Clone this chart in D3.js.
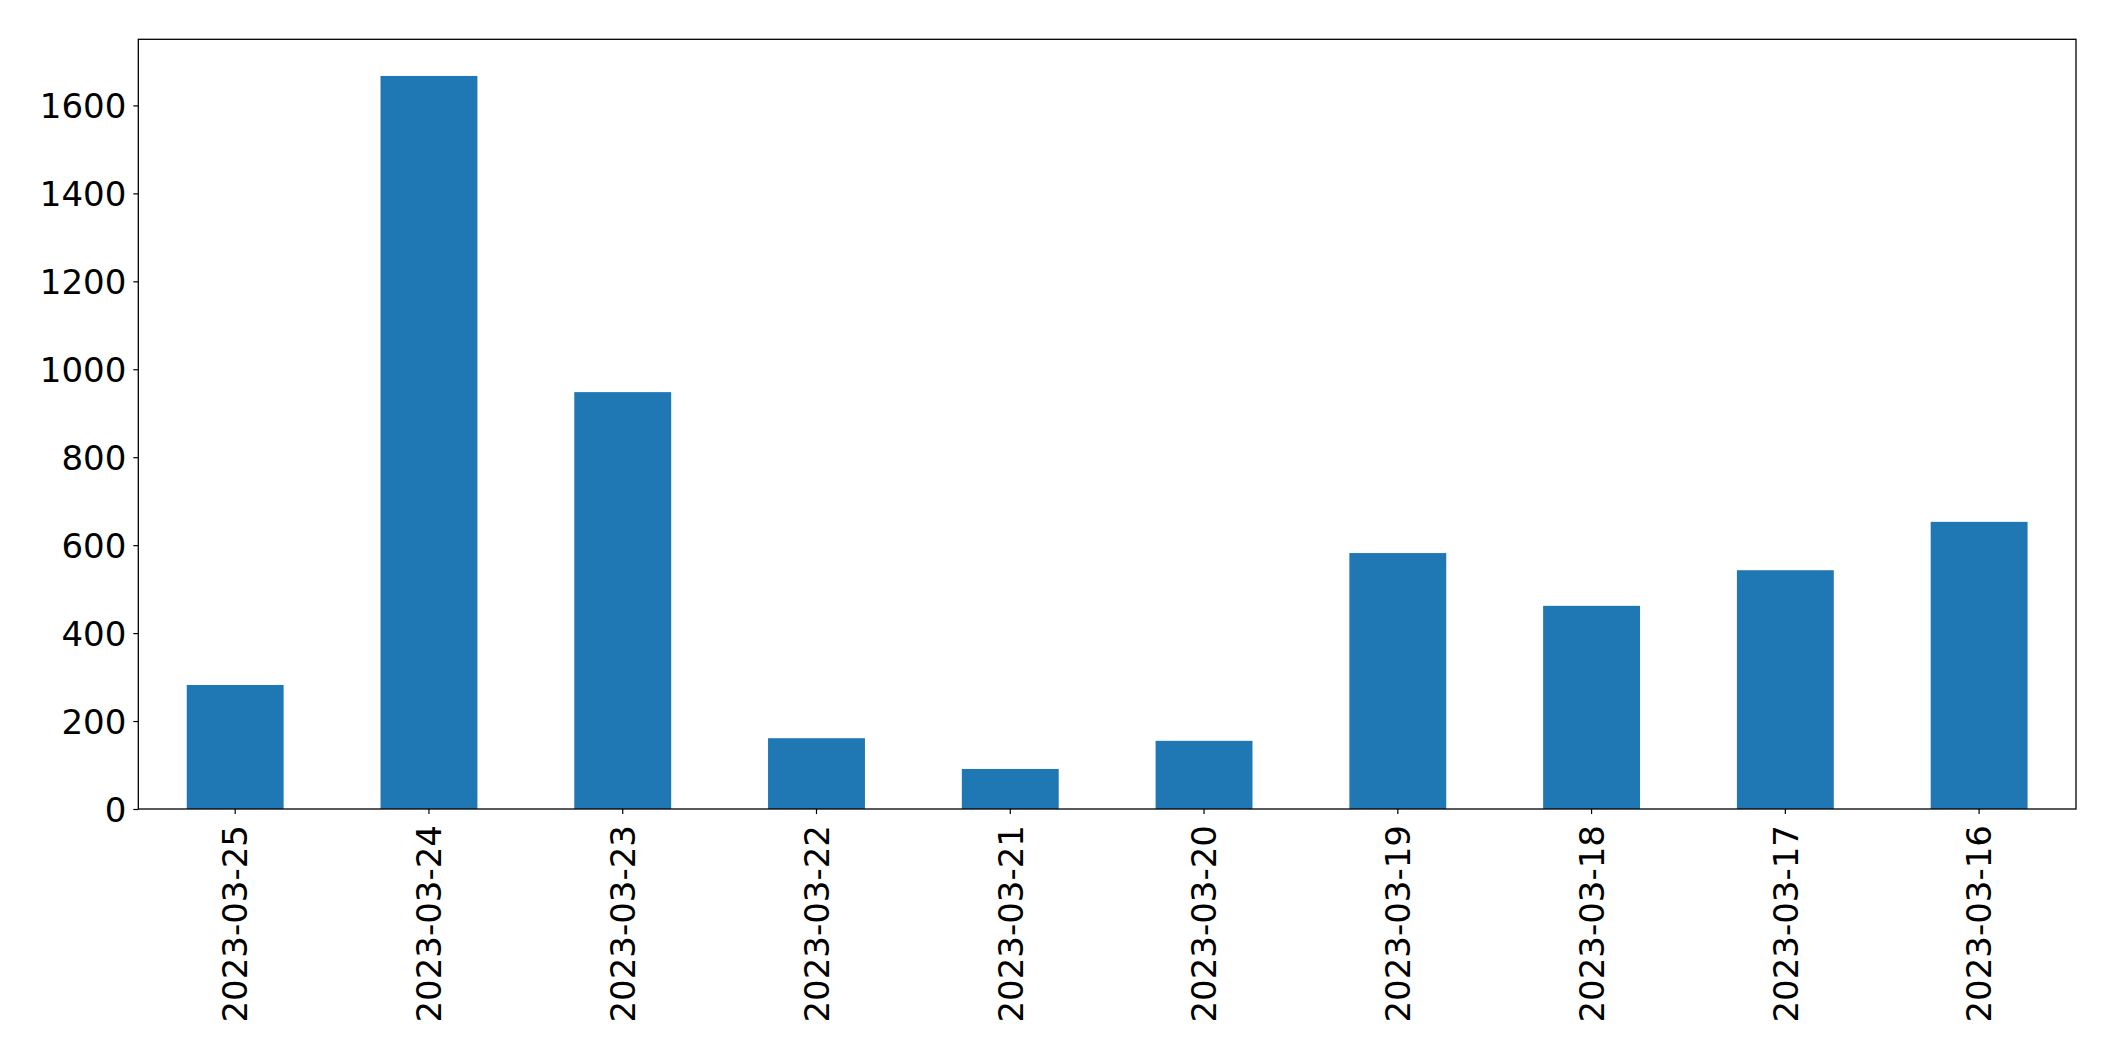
<!DOCTYPE html>
<html>
<head>
<meta charset="utf-8">
<script src="https://cdn.jsdelivr.net/npm/d3@7"></script>
<style>
  html, body { margin: 0; padding: 0; background: #fff; }
  svg { display: block; }
</style>
</head>
<body>
<svg id="chart"></svg>
<script>
const dates = ['2023-03-25', '2023-03-24', '2023-03-23', '2023-03-22', '2023-03-21',
               '2023-03-20', '2023-03-19', '2023-03-18', '2023-03-17', '2023-03-16'];
const counts = [282, 1667, 948, 161, 91, 155, 582, 462, 543, 653];
const yTicks = [0, 200, 400, 600, 800, 1000, 1200, 1400, 1600];

const width = 2115;
const height = 1061;
const margin = { top: 39.3, right: 2115 - 2076, bottom: 1061 - 809, left: 138.3 };
const font = '"DejaVu Sans", sans-serif';

const svg = d3.select('#chart')
    .attr('width', width)
    .attr('height', height);

const x = d3.scaleBand()
    .domain(dates)
    .range([margin.left, width - margin.right])
    .paddingInner(0.5)
    .paddingOuter(0.25);

const yMax = d3.max(counts) * 1.05;
const y = d3.scaleLinear()
    .domain([0, yMax])
    .range([height - margin.bottom, margin.top]);

svg.append('g')
  .selectAll('rect')
  .data(counts)
  .join('rect')
    .attr('x', (d, i) => x(dates[i]))
    .attr('y', d => y(d))
    .attr('width', x.bandwidth())
    .attr('height', d => y(0) - y(d))
    .attr('fill', '#1f77b4');

// y axis
const yAxis = svg.append('g')
    .attr('transform', `translate(${margin.left},0)`)
    .call(d3.axisLeft(y).tickValues(yTicks).tickSize(5).tickPadding(7).tickFormat(d3.format('d')));
yAxis.attr('font-family', null).attr('font-size', null);
yAxis.select('.domain').remove();
yAxis.selectAll('line').attr('stroke', '#000').attr('stroke-width', 1.2);
yAxis.selectAll('text')
    .attr('fill', '#000')
    .style('font-family', font)
    .style('font-size', '34px')
    .attr('dy', '0.36em');

// x axis
const xAxis = svg.append('g')
    .attr('transform', `translate(0,${height - margin.bottom})`)
    .call(d3.axisBottom(x).tickSize(5).tickPadding(0));
xAxis.attr('font-family', null).attr('font-size', null);
xAxis.select('.domain').remove();
xAxis.selectAll('line').attr('stroke', '#000').attr('stroke-width', 1.2);
xAxis.selectAll('text')
    .attr('fill', '#000')
    .style('font-family', font)
    .style('font-size', '34px')
    .attr('text-anchor', 'end')
    .attr('transform', 'translate(0,16) rotate(-90)')
    .attr('x', 0)
    .attr('y', 0)
    .attr('dy', '0.36em');

// frame
svg.append('rect')
    .attr('x', margin.left)
    .attr('y', margin.top)
    .attr('width', width - margin.left - margin.right)
    .attr('height', height - margin.top - margin.bottom)
    .attr('fill', 'none')
    .attr('stroke', '#000')
    .attr('stroke-width', 1.3);
</script>
</body>
</html>
